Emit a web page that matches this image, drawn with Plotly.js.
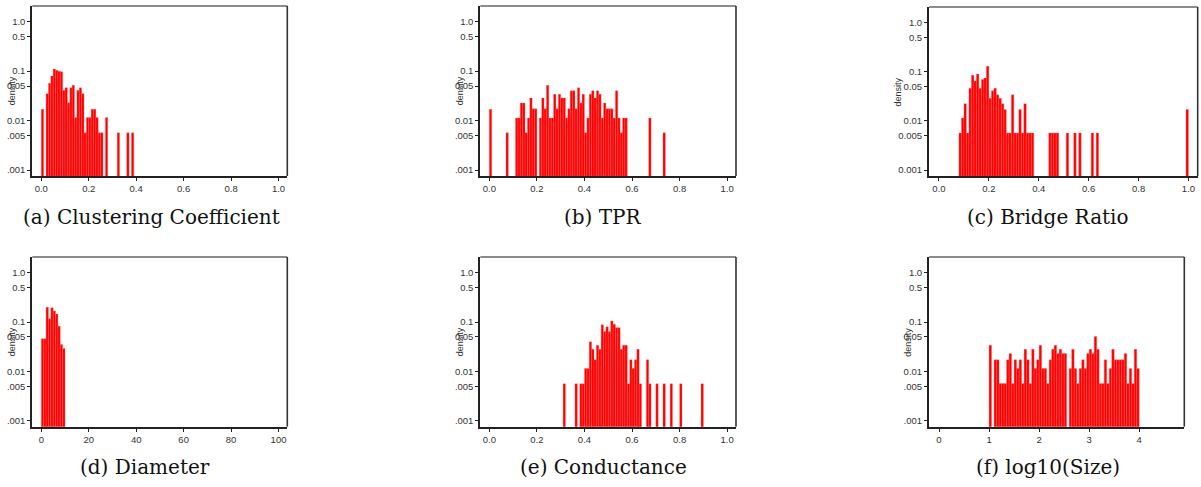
<!DOCTYPE html>
<html><head><meta charset="utf-8">
<script src="https://cdn.plot.ly/plotly-3.0.1.min.js"></script>
<style>html,body{margin:0;padding:0;background:#fff}#chart{width:1201px;height:487px}</style>
</head><body><div id="chart"></div>
<script>
// (a) Clustering Coefficient: bin left edges and densities (bin width 0.01)
const ccBins = [0.00,0.02,0.03,0.04,0.05,0.06,0.07,0.08,0.09,0.10,0.11,0.12,0.13,0.14,0.15,0.16,0.17,0.18,0.19,0.20,0.21,0.22,0.23,0.24,0.25,0.27,0.32,0.36,0.38];
const ccDensity = [0.017,0.035,0.057,0.080,0.110,0.104,0.100,0.097,0.041,0.046,0.023,0.046,0.052,0.0115,0.041,0.046,0.035,0.0057,0.0115,0.0115,0.017,0.017,0.0115,0.0057,0.0057,0.0115,0.0057,0.0057,0.0057];

// (b) TPR
const tprBins = [0.00,0.07,0.11,0.12,0.13,0.14,0.15,0.16,0.17,0.18,0.19,0.21,0.22,0.23,0.24,0.25,0.26,0.27,0.28,0.29,0.30,0.31,0.32,0.33,0.34,0.35,0.36,0.37,0.38,0.39,0.40,0.41,0.42,0.43,0.44,0.45,0.46,0.47,0.48,0.49,0.50,0.51,0.52,0.53,0.54,0.55,0.56,0.57,0.67,0.73];
const tprDensity = [0.017,0.0057,0.0113,0.0113,0.0226,0.0226,0.0057,0.0113,0.0288,0.0173,0.0173,0.0113,0.0288,0.0173,0.052,0.0113,0.0113,0.034,0.0173,0.034,0.0288,0.0288,0.0113,0.0173,0.040,0.040,0.0173,0.046,0.0226,0.034,0.0057,0.0113,0.034,0.040,0.0288,0.040,0.034,0.0113,0.0226,0.0173,0.0173,0.0173,0.0113,0.040,0.0113,0.0057,0.0113,0.0113,0.0113,0.0057];

// (c) Bridge Ratio
const brBins = [0.08,0.09,0.10,0.11,0.12,0.13,0.14,0.15,0.16,0.17,0.18,0.19,0.20,0.21,0.22,0.23,0.24,0.25,0.26,0.27,0.28,0.29,0.30,0.31,0.32,0.33,0.34,0.35,0.36,0.37,0.44,0.45,0.46,0.47,0.51,0.54,0.56,0.61,0.63,0.99];
const brDensity = [0.0057,0.0115,0.0225,0.0057,0.046,0.085,0.065,0.090,0.046,0.070,0.075,0.130,0.029,0.041,0.046,0.034,0.029,0.0225,0.017,0.0057,0.0057,0.034,0.0057,0.0057,0.017,0.0057,0.0225,0.0057,0.0057,0.0057,0.0057,0.0057,0.0057,0.0057,0.0057,0.0057,0.0057,0.0057,0.0057,0.017];

// (d) Diameter (bin width 1)
const diaBins = [0,1,2,3,4,5,6,7,8,9];
const diaDensity = [0.046,0.046,0.200,0.117,0.195,0.167,0.145,0.082,0.035,0.029];

// (e) Conductance
const condBins = [0.31,0.36,0.38,0.39,0.40,0.41,0.42,0.43,0.44,0.45,0.46,0.47,0.48,0.49,0.50,0.51,0.52,0.53,0.54,0.55,0.56,0.57,0.58,0.59,0.60,0.61,0.62,0.63,0.66,0.67,0.70,0.73,0.76,0.80,0.89];
const condDensity = [0.0056,0.0056,0.0056,0.0056,0.0115,0.0115,0.040,0.028,0.0172,0.034,0.028,0.088,0.064,0.080,0.064,0.105,0.090,0.077,0.077,0.028,0.034,0.034,0.0056,0.0172,0.0115,0.0172,0.028,0.0056,0.0172,0.0056,0.0056,0.0056,0.0056,0.0056,0.0056];

// (f) log10(Size) (bin width 0.05)
const sizeBins = [1.00,1.10,1.15,1.20,1.25,1.30,1.35,1.40,1.45,1.50,1.55,1.60,1.65,1.70,1.75,1.80,1.85,1.90,1.95,2.00,2.05,2.10,2.15,2.20,2.25,2.30,2.35,2.40,2.45,2.50,2.60,2.65,2.70,2.75,2.80,2.85,2.90,2.95,3.00,3.05,3.10,3.15,3.20,3.25,3.30,3.35,3.40,3.45,3.50,3.55,3.60,3.65,3.70,3.75,3.80,3.85,3.90,3.95];
const sizeDensity = [0.034,0.0172,0.0172,0.0057,0.0057,0.0057,0.0172,0.023,0.0057,0.0172,0.0115,0.0172,0.0057,0.028,0.0172,0.0057,0.028,0.0115,0.0172,0.034,0.0115,0.0115,0.0057,0.0172,0.028,0.034,0.023,0.028,0.023,0.023,0.0115,0.028,0.0115,0.0057,0.0115,0.0172,0.0115,0.023,0.028,0.023,0.051,0.028,0.0057,0.0057,0.0172,0.0057,0.0115,0.028,0.0172,0.0172,0.0172,0.0172,0.023,0.0057,0.0115,0.0057,0.028,0.0115];

const unitTicks = [0,0.2,0.4,0.6,0.8,1.0];
const unitTickText = ['0.0','0.2','0.4','0.6','0.8','1.0'];
const diaTicks = [0,20,40,60,80,100];
const sizeTicks = [0,1,2,3,4];
const yTicks = [0.001,0.005,0.01,0.05,0.1,0.5,1.0];
const yTickTextShort = ['.001','.005','0.01','0.05','0.1','0.5','1.0'];
const yTickTextLong = ['0.001','0.005','0.01','0.05','0.1','0.5','1.0'];
const captions = ['(a) Clustering Coefficient','(b) TPR','(c) Bridge Ratio','(d) Diameter','(e) Conductance','(f) log10(Size)'];

const W = 1201, H = 487;
const panels = [
  {bins: ccBins, dens: ccDensity, bw: 0.01, xr: [-0.038,1.037], tv: unitTicks, tt: unitTickText, yt: yTickTextShort, px: [32.3,287.3], py: [6,176], cx: 151, cy: 217, ds: -20},
  {bins: tprBins, dens: tprDensity, bw: 0.01, xr: [-0.038,1.037], tv: unitTicks, tt: unitTickText, yt: yTickTextShort, px: [480.3,736], py: [6,176], cx: 603, cy: 217, ds: -20},
  {bins: brBins, dens: brDensity, bw: 0.01, xr: [-0.04,1.037], tv: unitTicks, tt: unitTickText, yt: yTickTextLong, px: [929,1197.7], py: [7,176], cx: 1048, cy: 217, ds: -32},
  {bins: diaBins, dens: diaDensity, bw: 1, xr: [-3.8,103.7], tv: diaTicks, tt: diaTicks.map(String), yt: yTickTextShort, px: [32.3,287.3], py: [257,426.7], cx: 145, cy: 467, ds: -20},
  {bins: condBins, dens: condDensity, bw: 0.01, xr: [-0.038,1.037], tv: unitTicks, tt: unitTickText, yt: yTickTextShort, px: [480.3,736], py: [257,426.7], cx: 603, cy: 467, ds: -20},
  {bins: sizeBins, dens: sizeDensity, bw: 0.05, xr: [-0.2,4.9], tv: sizeTicks, tt: sizeTicks.map(String), yt: yTickTextShort, px: [929,1184.3], py: [257,426.7], cx: 1048, cy: 467, ds: -21}
];

const tickFont = {family: 'Liberation Sans, Arial, sans-serif', size: 9.5, color: '#333'};
const data = [];
const layout = {
  width: W, height: H, margin: {l:0, r:0, t:0, b:0},
  paper_bgcolor: '#fff', plot_bgcolor: '#fff', showlegend: false,
  annotations: [], shapes: [], hovermode: false
};
panels.forEach((p, i) => {
  const n = i === 0 ? '' : String(i + 1);
  const xa = 'x' + n, ya = 'y' + n;
  data.push({
    type: 'bar', x: p.bins, y: p.dens, width: p.bw, offset: 0,
    xaxis: xa, yaxis: ya,
    marker: {color: '#ff0000', line: {color: 'rgba(255,110,110,1)', width: 0.3}}
  });
  layout['xaxis' + n] = {
    domain: [p.px[0] / W, p.px[1] / W], anchor: ya, range: p.xr,
    tickmode: 'array', tickvals: p.tv, ticktext: p.tt,
    ticks: 'outside', ticklen: 3, tickwidth: 1, tickcolor: '#222',
    showline: true, linecolor: '#222', linewidth: 2,
    showgrid: false, zeroline: false, tickfont: tickFont, fixedrange: true
  };
  layout['yaxis' + n] = {
    domain: [1 - p.py[1] / H, 1 - p.py[0] / H], anchor: xa, type: 'log',
    range: [-3.12, 0.318],
    tickmode: 'array', tickvals: yTicks, ticktext: p.yt,
    ticks: 'outside', ticklen: 3, tickwidth: 1, tickcolor: '#222',
    showline: true, linecolor: '#222', linewidth: 2,
    showgrid: false, zeroline: false, tickfont: tickFont, fixedrange: true
  };
  layout.shapes.push({type: 'line', xref: xa + ' domain', yref: ya + ' domain', x0: 0, x1: 1, y0: 1, y1: 1, line: {color: '#666', width: 1.6}});
  layout.shapes.push({type: 'line', xref: xa + ' domain', yref: ya + ' domain', x0: 1, x1: 1, y0: 0, y1: 1, line: {color: '#333', width: 1.6}});
  layout.annotations.push({
    xref: xa + ' domain', yref: ya + ' domain', x: 0, y: 0.5, xshift: p.ds,
    text: 'density', textangle: -90, showarrow: false, xanchor: 'center', yanchor: 'middle',
    font: {family: 'Liberation Sans, Arial, sans-serif', size: 9, color: '#333'}
  });
  layout.annotations.push({
    xref: 'paper', yref: 'paper', x: p.cx / W, y: 1 - p.cy / H,
    text: captions[i], showarrow: false, xanchor: 'center', yanchor: 'middle',
    font: {family: 'DejaVu Serif, serif', size: 20, color: '#111'}
  });
});

Plotly.newPlot('chart', data, layout, {staticPlot: true, displayModeBar: false});
</script>
</body></html>
